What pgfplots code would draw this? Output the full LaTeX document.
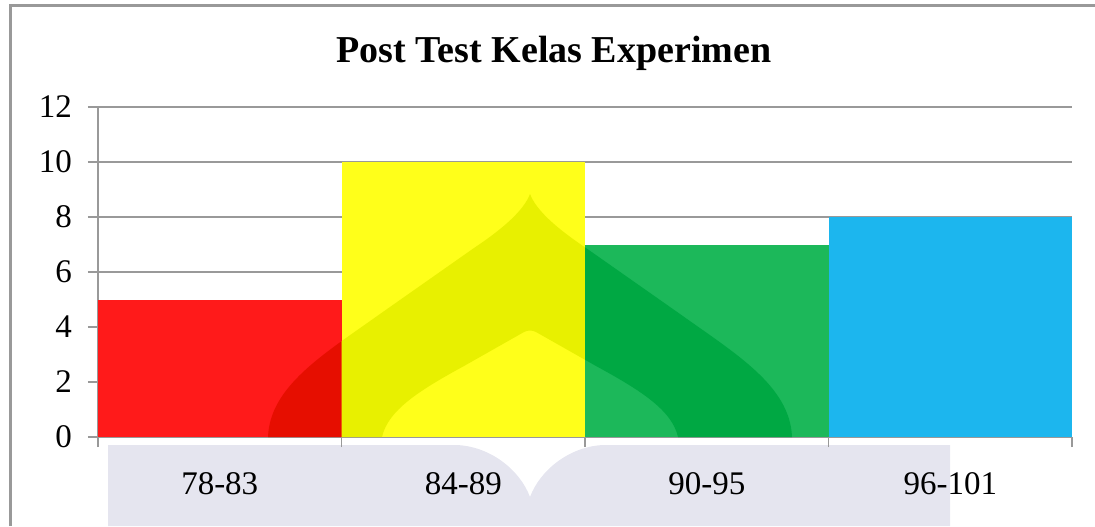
\documentclass[border=0pt]{standalone}
\usepackage{fontspec}
\setmainfont{Liberation Serif}
\usepackage{pgfplots}
\pgfplotsset{compat=1.18}
\definecolor{fr}{HTML}{999999}
\definecolor{cRed}{HTML}{FF1A1A}
\definecolor{cYel}{HTML}{FFFF1A}
\definecolor{cGrn}{HTML}{1CB85A}
\definecolor{cCyn}{HTML}{1CB6EE}
\definecolor{dRed}{HTML}{E60E00}
\definecolor{dYel}{HTML}{E8F000}
\definecolor{dGrn}{HTML}{00A843}
\definecolor{wm}{HTML}{E5E5EF}
\begin{document}
\begin{tikzpicture}
\useasboundingbox (0,0) rectangle (547.5pt,263pt);
% light watermark band below the axis
\fill[wm] (54pt,0) -- (54pt,40.5pt) -- (228pt,40.5pt)
  .. controls (245pt,40pt) and (260pt,28pt) .. (265pt,14.5pt)
  .. controls (270pt,28pt) and (285pt,40pt) .. (302pt,40.5pt)
  -- (475pt,40.5pt) -- (475pt,0) -- cycle;
\draw[fr, line width=1.5pt] (5pt,0) -- (5pt,260pt) -- (548pt,260pt);
\node[anchor=base, font=\fontsize{19}{22}\selectfont\bfseries] at (277pt,232pt) {Post Test Kelas Experimen};
\begin{axis}[
  at={(49pt,44.5pt)}, anchor=south west,
  scale only axis, width=487pt, height=165pt,
  xmin=0, xmax=4, ymin=0, ymax=12,
  ytick={0,2,...,12},
  xtick={0.5,1.5,2.5,3.5},
  xticklabels={78-83,84-89,90-95,96-101},
  minor xtick={0,1,2,3,4},
  major x tick style={draw=none},
  tick align=outside,
  minor tick length=5pt, major tick length=5pt,
  tick style={color=fr, line width=0.6pt},
  axis x line*=bottom, axis y line*=left,
  axis line style={color=fr, line width=0.8pt, -},
  ymajorgrids, grid style={color=fr, line width=0.6pt},
  ticklabel style={font=\fontsize{16.5}{19}\selectfont},
  /pgf/number format/assume math mode=true,
  yticklabel style={xshift=-4.5pt},
  xticklabel style={yshift=-9pt},
  ybar, bar width=1, bar shift=0pt,
  clip=false,
]
\addplot[fill=cRed, draw=none] coordinates {(0.5,5)};
\addplot[fill=cYel, draw=none] coordinates {(1.5,10)};
\addplot[fill=cGrn, draw=none] coordinates {(2.5,7)};
\addplot[fill=cCyn, draw=none] coordinates {(3.5,8)};
\end{axis}
% faint watermark dome over the bars (page coordinates, pt)
\def\dome{(134pt,44.5pt) .. controls (135pt,70pt) and (162pt,86pt) .. (190pt,106pt)
  -- (237pt,139pt) .. controls (252pt,149pt) and (262pt,158pt) .. (265pt,166pt)
  .. controls (268pt,158pt) and (278pt,149pt) .. (293pt,139pt)
  -- (340pt,106pt) .. controls (368pt,86pt) and (395pt,70pt) .. (396pt,44.5pt)
  -- (339pt,44.5pt) .. controls (336pt,58pt) and (320pt,68pt) .. (298pt,80pt)
  -- (268pt,97pt) .. controls (266pt,98pt) and (264pt,98pt) .. (262pt,97pt)
  -- (232pt,80pt) .. controls (210pt,68pt) and (194pt,58pt) .. (191pt,44.5pt) -- cycle}
\begin{scope}
\clip (49pt,44.5pt) rectangle (170.75pt,113.25pt);
\fill[dRed] \dome;
\end{scope}
\begin{scope}
\clip (170.75pt,44.5pt) rectangle (292.5pt,182pt);
\fill[dYel] \dome;
\end{scope}
\begin{scope}
\clip (292.5pt,44.5pt) rectangle (414.25pt,140.75pt);
\fill[dGrn] \dome;
\end{scope}
\end{tikzpicture}
\end{document}
